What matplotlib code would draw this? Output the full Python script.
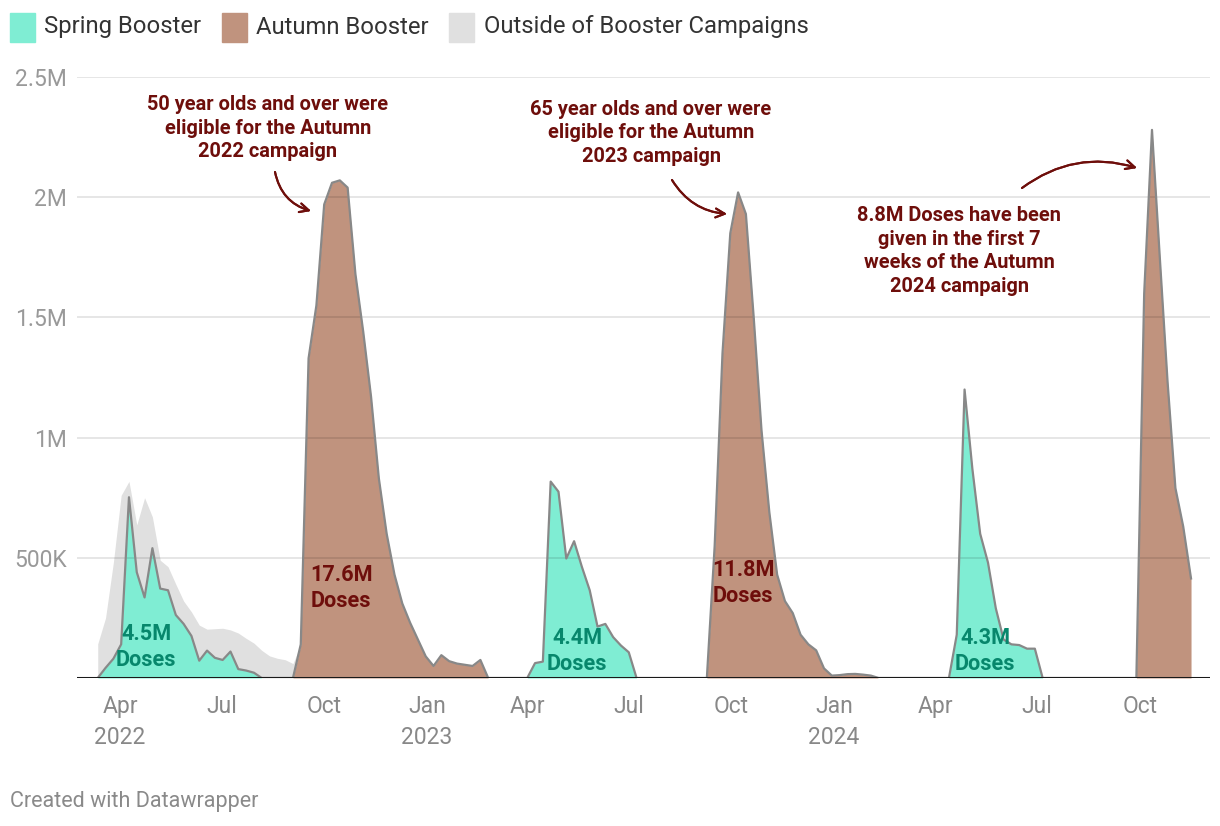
import numpy as np
import pandas as pd
import matplotlib.pyplot as plt
from matplotlib.patches import Rectangle

plt.rcParams['font.family'] = ['Roboto', 'DejaVu Sans']

# weekly doses (thousands); each list begins at its start week, other weeks are 0
week_first = '2022-03-12'
week_last = '2024-11-16'

spring_2022_start = '2022-03-19'
spring_2022 = [42, 80, 140, 752, 440, 335, 540, 372, 365, 262, 225, 175, 72, 114,
               84, 75, 110, 37, 31, 22]
spring_2023_start = '2023-04-08'
spring_2023 = [62, 68, 817, 775, 497, 569, 462, 365, 214, 225, 170, 135, 107]
spring_2024_start = '2024-04-20'
spring_2024 = [180, 1200, 870, 600, 480, 290, 160, 140, 137, 122, 122]

autumn_2022_start = '2022-09-10'
autumn_2022 = [140, 1330, 1550, 1970, 2060, 2070, 2040, 1680, 1440, 1170, 830, 600,
               430, 310, 230, 160, 90, 50, 95, 70, 60, 55, 50, 75]
autumn_2023_start = '2023-09-16'
autumn_2023 = [550, 1350, 1850, 2020, 1930, 1500, 1030, 690, 430, 320, 270, 180,
               140, 115, 40, 10, 12, 16, 17, 14, 10]
autumn_2024_start = '2024-10-05'
autumn_2024 = [1600, 2280, 1750, 1230, 790, 630, 414]

outside_2022_start = '2022-03-12'
outside_2022 = [142, 208, 400, 620, 66, 197, 415, 130, 118, 98, 128, 95, 100, 148,
                89, 121, 132, 90, 150, 134, 123, 115, 92, 82, 76, 60]

tick_dates = ['2022-04-01', '2022-07-01', '2022-10-01', '2023-01-01', '2023-04-01',
              '2023-07-01', '2023-10-01', '2024-01-01', '2024-04-01', '2024-07-01',
              '2024-10-01']
tick_labels = ['Apr\n2022', 'Jul', 'Oct', 'Jan\n2023', 'Apr', 'Jul', 'Oct',
               'Jan\n2024', 'Apr', 'Jul', 'Oct']
y_ticks = [0, 500000, 1000000, 1500000, 2000000, 2500000]
y_labels = ['', '500K', '1M', '1.5M', '2M', '2.5M']

weeks = pd.date_range(week_first, week_last, freq='7D')


def weekly(parts):
    s = pd.Series(0.0, index=weeks)
    for start, vals in parts:
        idx = pd.date_range(start, periods=len(vals), freq='7D')
        s.loc[idx] = vals
    return s.values * 1000


spring = weekly([(spring_2022_start, spring_2022), (spring_2023_start, spring_2023),
                 (spring_2024_start, spring_2024)])
autumn = weekly([(autumn_2022_start, autumn_2022), (autumn_2023_start, autumn_2023),
                 (autumn_2024_start, autumn_2024)])
outside = weekly([(outside_2022_start, outside_2022)])

c_spring = '#7fedd3'
c_autumn = '#c0937e'
c_out = '#e0e0e0'
c_red = '#6e0e0b'
c_teal = '#07876c'

W, H = 1220, 826
fig = plt.figure(figsize=(W / 100, H / 100), dpi=100)


def px(x, y):
    return x / W, 1 - y / H


ax = fig.add_axes([77 / W, (H - 678) / H, (1210 - 77) / W, (678 - 77) / H])

top = spring + autumn
ax.fill_between(weeks, top, top + outside, color=c_out, lw=0, zorder=1)
ax.fill_between(weeks, 0, spring, color=c_spring, lw=0, zorder=2)
ax.fill_between(weeks, spring, top, color=c_autumn, lw=0, zorder=2)
ax.plot(weeks, top, color='#888888', lw=1.6, zorder=3)
ax.axhline(0, color='#1a1a1a', lw=2.2, zorder=5)

ax.set_xlim(pd.Timestamp('2022-02-21 10:00'), pd.Timestamp('2024-12-03'))
ax.set_ylim(0, 2500000)
ax.set_yticks(y_ticks, y_labels)
ax.set_xticks(pd.to_datetime(tick_dates), tick_labels)
ax.set_axisbelow(False)
ax.grid(axis='y', color='black', alpha=0.11, lw=1.3)
ax.tick_params(axis='y', length=0, pad=7, labelsize=16.5, colors='#999999')
ax.tick_params(axis='x', length=0, pad=12, labelsize=16.5, colors='#888888')
for lab in ax.get_xticklabels():
    lab.set_linespacing(1.45)
for sp in ax.spines.values():
    sp.set_visible(False)

# legend
legend_items = [(10, 44, c_spring, 'Spring Booster'),
                (222, 256, c_autumn, 'Autumn Booster'),
                (449, 484, c_out, 'Outside of Booster Campaigns')]
for sx, tx, col, name in legend_items:
    x0, y0 = px(sx, 42)
    fig.patches.append(Rectangle((x0, y0), 25 / W, 29 / H, color=col,
                                 transform=fig.transFigure))
    fig.text(*px(tx, 27), name, fontsize=17.2, color='#333333', va='center')

# annotations
notes = [(268, 128, '50 year olds and over were\neligible for the Autumn\n2022 campaign'),
         (651, 133, '65 year olds and over were\neligible for the Autumn\n2023 campaign'),
         (959, 251, '8.8M Doses have been\ngiven in the first 7\nweeks of the Autumn\n2024 campaign')]
for x, y, t in notes:
    fig.text(*px(x, y), t, ha='center', va='center', fontsize=14.4,
             fontweight='bold', color=c_red, linespacing=1.3)

arrows = [((275, 172), (311, 211), 0.3),
          ((672, 180), (727, 214), 0.25),
          ((1022, 188), (1137, 168), -0.25)]
for (x1, y1), (x2, y2), rad in arrows:
    fig.add_artist(plt.annotate('', xy=px(x2, y2), xytext=px(x1, y1),
                                xycoords='figure fraction', textcoords='figure fraction',
                                arrowprops=dict(arrowstyle='->,head_length=0.65,head_width=0.32',
                                                color=c_red, lw=1.5,
                                                connectionstyle='arc3,rad=%s' % rad,
                                                shrinkA=0, shrinkB=0)))

totals = [(146, 647, '4.5M\nDoses', c_teal), (341, 588, '17.6M\nDoses', c_red),
          (577, 651, '4.4M\nDoses', c_teal), (743, 583, '11.8M\nDoses', c_red),
          (985, 651, '4.3M\nDoses', c_teal)]
for x, y, t, col in totals:
    fig.text(*px(x, y), t, ha='center', va='center', fontsize=15.6,
             fontweight='bold', color=col, linespacing=1.2)

fig.text(*px(10, 801), 'Created with Datawrapper', fontsize=15.5, color='#8a8a8a',
         va='center')

fig.savefig('out.png', dpi=100)
